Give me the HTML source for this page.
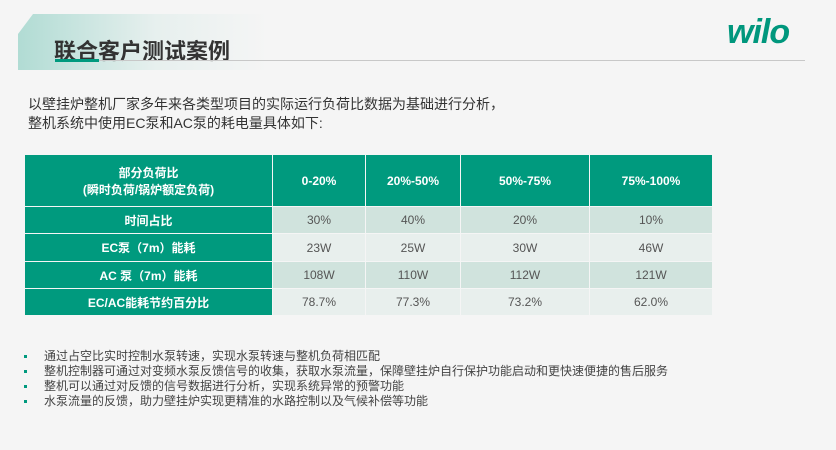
<!DOCTYPE html>
<html><head><meta charset="utf-8"><style>
body{margin:0;width:836px;height:450px;background:#f5f5f5;position:relative;overflow:hidden;font-family:"Liberation Sans","Noto Sans CJK SC",sans-serif;}
.deco{position:absolute;left:18px;top:14px;width:250px;height:56px;background:linear-gradient(90deg,rgba(0,154,126,0.28),rgba(0,154,126,0.06) 55%,rgba(0,154,126,0));clip-path:polygon(15px 0,100% 0,100% 100%,0 100%,0 20px);}
.title{position:absolute;left:54px;top:34px;font-size:22px;font-weight:bold;color:#333;}
.gl{position:absolute;left:55px;top:60px;width:750px;height:1px;background:#c8c8c8;}
.ul{position:absolute;left:55px;top:59px;width:44px;height:3px;background:#009a7e;}
.logo{position:absolute;left:727px;top:13px;font-size:34px;font-weight:bold;font-style:italic;color:#00977d;letter-spacing:-1px;}
.intro{position:absolute;left:28px;top:95px;font-size:14px;line-height:19px;color:#333;}
table{position:absolute;left:24px;top:154px;border-collapse:collapse;width:689px;font-size:12px;}
td{text-align:center;padding:0;border:1px solid #f5f5f5;}
td.h{background:#009a7e;color:#fff;font-weight:bold;}
tr.r1 td{background:#d0e3dd;color:#555}
tr.r2 td{background:#e8efed;color:#555}
tr td.h{background:#009a7e;color:#fff}
ul{position:absolute;left:24px;top:349px;margin:0;padding:0;list-style:none;font-size:12px;line-height:15px;color:#444;}
li{padding-left:20px;position:relative}
li:before{content:"";position:absolute;left:0;top:6px;width:3px;height:3px;background:#009a7e;}
</style></head><body>
<div class="deco"></div>
<div class="title">联合客户测试案例</div>
<div class="gl"></div><div class="ul"></div>
<div class="logo">wilo</div>
<div class="intro">以壁挂炉整机厂家多年来各类型项目的实际运行负荷比数据为基础进行分析，<br>整机系统中使用EC泵和AC泵的耗电量具体如下:</div>
<table>
<tr style="height:52px"><td class="h" style="width:247px">部分负荷比<br>(瞬时负荷/锅炉额定负荷)</td><td class="h" style="width:92px">0-20%</td><td class="h" style="width:94px">20%-50%</td><td class="h" style="width:128px">50%-75%</td><td class="h">75%-100%</td></tr>
<tr class="r1" style="height:27px"><td class="h">时间占比</td><td>30%</td><td>40%</td><td>20%</td><td>10%</td></tr>
<tr class="r2" style="height:28px"><td class="h">EC泵（7m）能耗</td><td>23W</td><td>25W</td><td>30W</td><td>46W</td></tr>
<tr class="r1" style="height:27px"><td class="h">AC 泵（7m）能耗</td><td>108W</td><td>110W</td><td>112W</td><td>121W</td></tr>
<tr class="r2" style="height:27px"><td class="h">EC/AC能耗节约百分比</td><td>78.7%</td><td>77.3%</td><td>73.2%</td><td>62.0%</td></tr>
</table>
<ul>
<li>通过占空比实时控制水泵转速，实现水泵转速与整机负荷相匹配</li>
<li>整机控制器可通过对变频水泵反馈信号的收集，获取水泵流量，保障壁挂炉自行保护功能启动和更快速便捷的售后服务</li>
<li>整机可以通过对反馈的信号数据进行分析，实现系统异常的预警功能</li>
<li>水泵流量的反馈，助力壁挂炉实现更精准的水路控制以及气候补偿等功能</li>
</ul>
</body></html>
